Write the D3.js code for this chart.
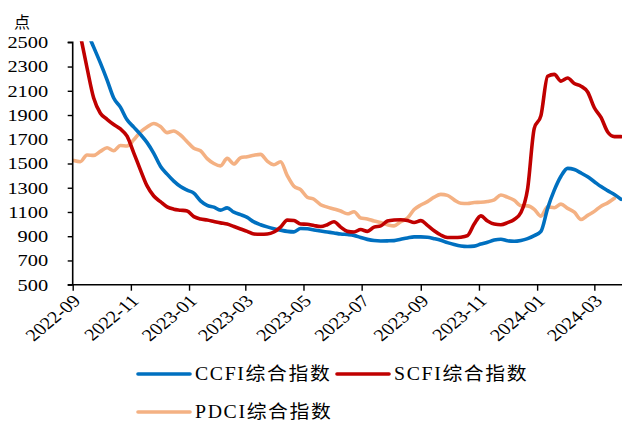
<!DOCTYPE html>
<html>
<head>
<meta charset="utf-8">
<script src="https://cdn.jsdelivr.net/npm/d3@7"></script>
<style>
  html, body { margin: 0; padding: 0; background: #fff; }
  svg { display: block; }
  text { font-family: "Liberation Serif", "Times New Roman", "Noto Sans CJK SC", serif; fill: #000; }
</style>
</head>
<body>
<svg id="chart" width="622" height="423"></svg>
<script>
// Weekly index readings, first week ending 2022-09-02
const firstWeek = "2022-09-02";

const ccfi = [2870, 2730, 2590, 2460, 2330, 2190, 2040, 1965, 1860, 1800,
  1740, 1672, 1584, 1478, 1412, 1355, 1310, 1280, 1255, 1192,
  1155, 1140, 1115, 1134, 1098, 1078, 1055, 1018, 995, 977,
  962, 950, 940, 936, 964, 962, 952, 943, 935, 927,
  918, 914, 907, 889, 874, 864, 861, 862, 864, 875,
  886, 895, 895, 892, 880, 866, 847, 831, 819, 815,
  818, 835, 850, 868, 875, 862, 858, 865, 880, 905,
  940, 1130, 1280, 1395, 1460, 1450, 1422, 1390, 1350, 1310,
  1276, 1244, 1205];

const scfi = [2850, 2560, 2290, 2040, 1915, 1865, 1822, 1785, 1725, 1588,
  1448, 1315, 1232, 1185, 1142, 1123, 1115, 1108, 1062, 1042,
  1034, 1022, 1010, 1000, 980, 960, 940, 918, 916, 918,
  935, 975, 1033, 1030, 1001, 999, 988, 980, 995, 1020,
  975, 940, 935, 955, 940, 975, 985, 1025, 1034, 1036,
  1030, 1013, 1029, 990, 945, 910, 890, 889, 892, 905,
  1000, 1068, 1025, 1000, 995, 1012, 1038, 1095, 1290, 1790,
  1895, 2220, 2235, 2180, 2205, 2160, 2138, 2090, 1960, 1880,
  1760, 1722, 1722];

const pdci = [1525, 1515, 1570, 1567, 1600, 1630, 1605, 1648, 1645, 1695,
  1760, 1802, 1830, 1805, 1755, 1768, 1735, 1680, 1625, 1605,
  1540, 1500, 1480, 1542, 1496, 1548, 1556, 1568, 1575, 1520,
  1490, 1515, 1400, 1312, 1284, 1222, 1205, 1160, 1140, 1125,
  1108, 1085, 1102, 1050, 1043, 1025, 1013, 995, 985, 1020,
  1050, 1120, 1158, 1185, 1222, 1245, 1237, 1200, 1172, 1170,
  1178, 1180, 1187, 1200, 1240, 1222, 1197, 1152, 1150, 1122,
  1065, 1142, 1135, 1165, 1130, 1098, 1038, 1072, 1105, 1148,
  1175, 1213];

const yTicks = [500, 700, 900, 1100, 1300, 1500, 1700, 1900, 2100, 2300, 2500];
const xTickLabels = ["2022-09", "2022-11", "2023-01", "2023-03", "2023-05",
  "2023-07", "2023-09", "2023-11", "2024-01", "2024-03"];

const seriesNames = ["CCFI综合指数", "SCFI综合指数", "PDCI综合指数"];
const seriesColors = ["#0070C0", "#C00000", "#F4B183"];
const yUnit = "点";

// ---- layout ----
const plotLeft = 72.7, plotRight = 622, plotTop = 42.3, plotBottom = 284.7;
const stretch = 1.2; // horizontal stretch applied to the serif labels

const svg = d3.select("#chart");
const parse = d3.utcParse("%Y-%m-%d");
const parseMonth = d3.utcParse("%Y-%m");
const start = parse(firstWeek);
const dates = d3.range(83).map(i => d3.utcDay.offset(start, 7 * i));

const x = d3.scaleUtc()
  .domain([parse("2022-09-01"), parse("2024-03-30")])
  .range([plotLeft, plotRight]);
const y = d3.scaleLinear().domain([500, 2500]).range([plotBottom, plotTop]);

svg.append("defs").append("clipPath").attr("id", "plotClip")
  .append("rect").attr("x", plotLeft).attr("y", plotTop - 1)
  .attr("width", plotRight - plotLeft + 2).attr("height", plotBottom - plotTop + 1);

// ---- lines ----
const line = d3.line()
  .x(d => x(d[0]))
  .y(d => y(d[1]))
  .curve(d3.curveMonotoneX);

const allSeries = [ccfi, scfi, pdci];
const drawOrder = [2, 0, 1];
const plot = svg.append("g").attr("clip-path", "url(#plotClip)");
drawOrder.forEach(k => {
  const pts = allSeries[k].map((v, i) => [dates[i], v]);
  plot.append("path")
    .datum(pts)
    .attr("d", line)
    .attr("fill", "none")
    .attr("stroke", seriesColors[k])
    .attr("stroke-width", 3.6)
    .attr("stroke-linejoin", "round")
    .attr("stroke-linecap", "round");
});

// ---- axes ----
const yAxis = d3.axisLeft(y).tickValues(yTicks).tickSize(5).tickFormat("");
const yg = svg.append("g").attr("transform", `translate(${plotLeft},0)`).call(yAxis);
yg.select(".domain").attr("stroke", "#000").attr("stroke-width", 1.6)
  .attr("d", `M-5,${plotTop}H0V${plotBottom}H-5`);
yg.selectAll(".tick line").attr("stroke", "#000").attr("stroke-width", 1.4);

svg.append("g").selectAll("text").data(yTicks).join("text")
  .attr("transform", d => `translate(${plotLeft - 24.5},${y(d)}) scale(${stretch},1)`)
  .attr("text-anchor", "end")
  .attr("dy", "0.35em")
  .attr("font-size", 17)
  .text(d => d);

const xTickDates = xTickLabels.map(parseMonth);
const xAxis = d3.axisBottom(x).tickValues(xTickDates).tickSize(6).tickFormat("");
const xg = svg.append("g").attr("transform", `translate(0,${plotBottom})`).call(xAxis);
xg.select(".domain").attr("stroke", "#000").attr("stroke-width", 1.6)
  .attr("d", `M${plotLeft},0H${plotRight}`);
xg.selectAll(".tick line").attr("stroke", "#000").attr("stroke-width", 1.4);

svg.append("g").selectAll("text").data(xTickLabels).join("text")
  .attr("transform", (d, i) => `translate(${x(xTickDates[i]) + 4},${plotBottom + 13}) scale(${stretch},1) rotate(-45)`)
  .attr("text-anchor", "end")
  .attr("dy", "0.35em")
  .attr("font-size", 17)
  .text(d => d);

// unit label
svg.append("text")
  .attr("x", 22).attr("y", 28)
  .attr("text-anchor", "middle")
  .attr("font-size", 16)
  .attr("font-family", "Noto Sans CJK SC")
  .text(yUnit);

// ---- legend ----
const legendItems = [
  { k: 0, x: 138, y: 374 },
  { k: 1, x: 337, y: 374 },
  { k: 2, x: 138, y: 412 }
];
const lg = svg.append("g");
legendItems.forEach(it => {
  lg.append("line")
    .attr("x1", it.x).attr("x2", it.x + 52)
    .attr("y1", it.y).attr("y2", it.y)
    .attr("stroke", seriesColors[it.k])
    .attr("stroke-width", 3.6)
    .attr("stroke-linecap", "round");
  lg.append("text")
    .attr("transform", `translate(${it.x + 57},${it.y}) scale(1.1,1)`)
    .attr("dy", "0.35em")
    .attr("font-size", 18)
    .attr("letter-spacing", 1.5)
    .text(seriesNames[it.k]);
});
</script>
</body>
</html>
